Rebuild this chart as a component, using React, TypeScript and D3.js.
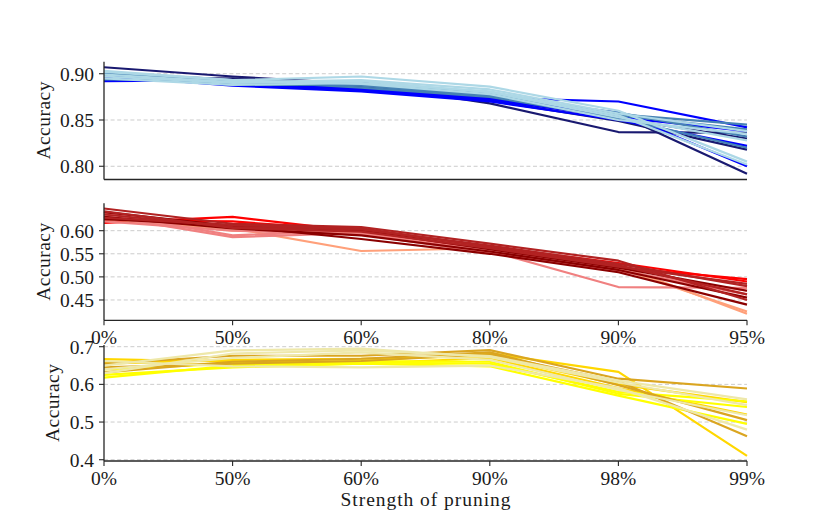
import * as d3 from 'd3'

// pruning levels (tick labels) for the two task families
const pruneTicksTop = ['0%', '50%', '60%', '80%', '90%', '95%']
const pruneTicksBottom = ['0%', '50%', '60%', '90%', '98%', '99%']

// panel 1 – blue runs
const blueColors = ['midnightblue', 'midnightblue', 'midnightblue', 'midnightblue',
  'blue', 'blue', 'blue', 'blue',
  'steelblue', 'steelblue', 'steelblue', 'steelblue',
  'lightblue', 'lightblue', 'lightblue', 'lightblue', 'lightblue']
const blueRuns = [
  [0.907, 0.897, 0.889, 0.868, 0.837, 0.836],
  [0.893, 0.895, 0.888, 0.876, 0.856, 0.792],
  [0.900, 0.894, 0.886, 0.874, 0.852, 0.830],
  [0.897, 0.893, 0.884, 0.871, 0.849, 0.818],
  [0.892, 0.893, 0.882, 0.874, 0.870, 0.842],
  [0.896, 0.889, 0.882, 0.872, 0.858, 0.800],
  [0.895, 0.890, 0.884, 0.872, 0.853, 0.838],
  [0.898, 0.887, 0.881, 0.870, 0.850, 0.822],
  [0.900, 0.888, 0.888, 0.877, 0.856, 0.845],
  [0.894, 0.892, 0.891, 0.878, 0.855, 0.840],
  [0.899, 0.893, 0.885, 0.875, 0.852, 0.820],
  [0.902, 0.890, 0.887, 0.876, 0.858, 0.832],
  [0.902, 0.893, 0.897, 0.886, 0.860, 0.805],
  [0.897, 0.890, 0.892, 0.880, 0.853, 0.828],
  [0.903, 0.893, 0.889, 0.878, 0.850, 0.835],
  [0.895, 0.888, 0.890, 0.881, 0.855, 0.802],
  [0.899, 0.891, 0.893, 0.883, 0.857, 0.838],
]

// panel 2 – red runs
const redColors = ['red', 'red',
  'lightsalmon', 'lightsalmon',
  'lightcoral', 'lightcoral', 'lightcoral',
  'darkred', 'darkred', 'darkred',
  'firebrick', 'firebrick', 'firebrick', 'firebrick']
const redRuns = [
  [0.617, 0.630, 0.598, 0.560, 0.520, 0.495],
  [0.622, 0.620, 0.600, 0.565, 0.530, 0.490],
  [0.625, 0.605, 0.556, 0.562, 0.525, 0.420],
  [0.630, 0.600, 0.596, 0.566, 0.518, 0.425],
  [0.632, 0.586, 0.595, 0.556, 0.478, 0.476],
  [0.638, 0.590, 0.600, 0.560, 0.515, 0.462],
  [0.620, 0.600, 0.592, 0.552, 0.512, 0.470],
  [0.640, 0.610, 0.582, 0.550, 0.510, 0.440],
  [0.630, 0.605, 0.590, 0.555, 0.515, 0.455],
  [0.625, 0.612, 0.600, 0.560, 0.520, 0.470],
  [0.648, 0.615, 0.608, 0.572, 0.535, 0.450],
  [0.635, 0.608, 0.603, 0.568, 0.528, 0.480],
  [0.628, 0.612, 0.605, 0.565, 0.525, 0.462],
  [0.642, 0.606, 0.598, 0.562, 0.522, 0.485],
]

// panel 3 – yellow runs
const yellowColors = ['gold', 'gold', 'gold',
  'yellow', 'yellow', 'yellow',
  'goldenrod', 'goldenrod', 'goldenrod',
  'palegoldenrod', 'palegoldenrod', 'palegoldenrod', 'palegoldenrod']
const yellowRuns = [
  [0.667, 0.660, 0.662, 0.683, 0.633, 0.410],
  [0.660, 0.650, 0.655, 0.670, 0.590, 0.520],
  [0.655, 0.665, 0.668, 0.675, 0.600, 0.553],
  [0.618, 0.650, 0.662, 0.660, 0.575, 0.540],
  [0.625, 0.645, 0.655, 0.648, 0.570, 0.495],
  [0.640, 0.655, 0.658, 0.655, 0.580, 0.555],
  [0.655, 0.676, 0.676, 0.691, 0.615, 0.589],
  [0.632, 0.660, 0.668, 0.685, 0.598, 0.505],
  [0.645, 0.655, 0.662, 0.680, 0.608, 0.462],
  [0.650, 0.690, 0.695, 0.672, 0.605, 0.545],
  [0.640, 0.670, 0.685, 0.665, 0.585, 0.518],
  [0.662, 0.648, 0.645, 0.650, 0.590, 0.480],
  [0.630, 0.682, 0.690, 0.675, 0.610, 0.560],
]

const blueYTicks = [0.80, 0.85, 0.90]
const redYTicks = [0.45, 0.50, 0.55, 0.60]
const yellowYTicks = [0.4, 0.5, 0.6, 0.7]

const W = 830
const H = 519
const left = 104
const right = 747
const FONT = '"Liberation Serif", "Times New Roman", serif'

const panels = [
  { top: 61.7, bottom: 179.5, domain: [0.7857, 0.913], ticks: blueYTicks, fmt: '.2f', runs: blueRuns, colors: blueColors, xLabels: null as string[] | null, labelX: 44 },
  { top: 203.3, bottom: 320.3, domain: [0.406, 0.6593], ticks: redYTicks, fmt: '.2f', runs: redRuns, colors: redColors, xLabels: pruneTicksTop, labelX: 44 },
  { top: 345, bottom: 461, domain: [0.3966, 0.7045], ticks: yellowYTicks, fmt: '.1f', runs: yellowRuns, colors: yellowColors, xLabels: pruneTicksBottom, labelX: 53 },
]

function Panel({ p }: { p: typeof panels[number] }) {
  const x = d3.scalePoint<number>().domain(d3.range(6)).range([left, right])
  const y = d3.scaleLinear().domain(p.domain).range([p.bottom, p.top])
  const line = d3.line<number>().x((_, i) => x(i) as number).y(d => y(d))
  const fmt = d3.format(p.fmt)
  return (
    <g>
      {p.ticks.map(t => (
        <line key={'g' + t} x1={left} x2={right} y1={y(t)} y2={y(t)}
          stroke="#cccccc" strokeWidth={1} strokeDasharray="4,2.6" />
      ))}
      {p.runs.map((r, i) => (
        <path key={i} d={line(r) ?? ''} fill="none" stroke={p.colors[i]}
          strokeWidth={2.2} strokeLinejoin="round" />
      ))}
      <line x1={left} x2={left} y1={p.top} y2={p.bottom} stroke="#262626" strokeWidth={1.3} />
      <line x1={left} x2={right} y1={p.bottom} y2={p.bottom} stroke="#262626" strokeWidth={1.3} />
      {p.ticks.map(t => (
        <g key={'t' + t}>
          <line x1={left - 5} x2={left} y1={y(t)} y2={y(t)} stroke="#262626" strokeWidth={1.1} />
          <text x={left - 10} y={y(t)} dy="0.36em" textAnchor="end" fontSize={19.5}
            fontFamily={FONT} fill="#1a1a1a">{fmt(t)}</text>
        </g>
      ))}
      {p.xLabels && p.xLabels.map((lab, i) => (
        <g key={'x' + i}>
          <line x1={x(i)} x2={x(i)} y1={p.bottom} y2={p.bottom + 5} stroke="#262626" strokeWidth={1.1} />
          <text x={x(i)} y={p.bottom + 24} textAnchor="middle" fontSize={19.5}
            fontFamily={FONT} fill="#1a1a1a">{lab}</text>
        </g>
      ))}
      <text transform={`translate(${p.labelX},${(p.top + p.bottom) / 2}) rotate(-90)`}
        dy="0.3em" textAnchor="middle" fontSize={19.5} fontFamily={FONT} fill="#1a1a1a"
        textLength={78} lengthAdjust="spacing">Accuracy</text>
    </g>
  )
}

export default function App() {
  return (
    <svg width={W} height={H} style={{ position: 'absolute', left: 0, top: 0, background: '#fff' }}>
      <rect width={W} height={H} fill="#fff" />
      {panels.map((p, i) => <Panel key={i} p={p} />)}
      <text x={(left + right) / 2} y={506} textAnchor="middle" fontSize={19.5}
        fontFamily={FONT} fill="#1a1a1a" textLength={170} lengthAdjust="spacing">Strength of pruning</text>
    </svg>
  )
}
